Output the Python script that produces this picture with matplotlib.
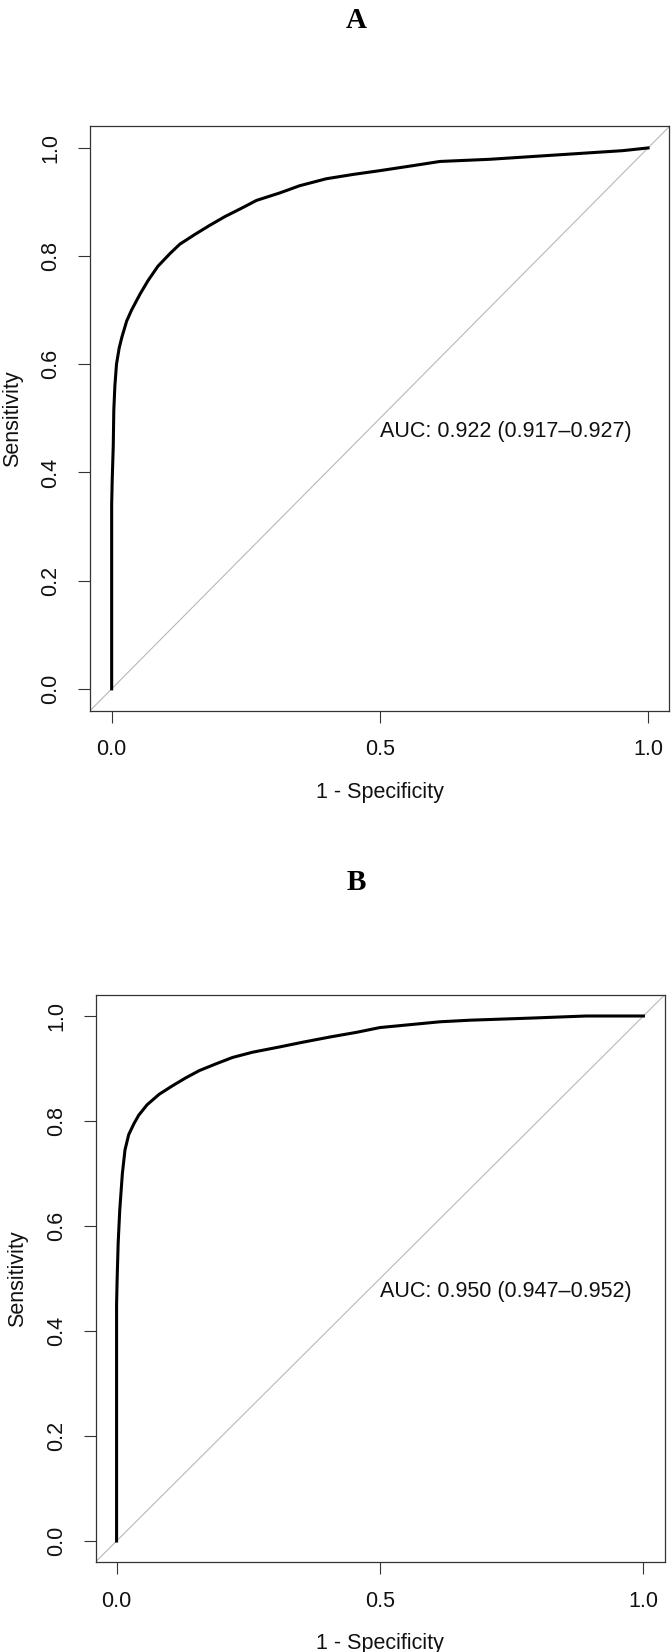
import matplotlib.pyplot as plt

# Curva ROC del panel A (1 - especificidad, sensibilidad)
fpr_a = [0.0, 0.0, 0.001, 0.003, 0.004, 0.006, 0.009, 0.014, 0.019, 0.028, 0.037,
         0.053, 0.068, 0.086, 0.109, 0.127, 0.155, 0.183, 0.211, 0.245, 0.27,
         0.314, 0.35, 0.40, 0.45, 0.50, 0.56, 0.612, 0.705, 0.829, 0.953, 1.0]
tpr_a = [0.0, 0.34, 0.385, 0.45, 0.515, 0.56, 0.60, 0.63, 0.65, 0.68, 0.70,
         0.73, 0.755, 0.781, 0.805, 0.822, 0.840, 0.857, 0.873, 0.890, 0.903,
         0.917, 0.930, 0.943, 0.951, 0.958, 0.967, 0.975, 0.979, 0.987, 0.995, 1.0]

# Curva ROC del panel B
fpr_b = [0.0, 0.0, 0.001, 0.003, 0.006, 0.011, 0.016, 0.023, 0.033, 0.042, 0.058,
         0.081, 0.106, 0.131, 0.157, 0.189, 0.22, 0.258, 0.309, 0.353, 0.405,
         0.456, 0.50, 0.614, 0.671, 0.786, 0.891, 1.0]
tpr_b = [0.0, 0.45, 0.496, 0.567, 0.63, 0.70, 0.745, 0.774, 0.795, 0.811, 0.831,
         0.851, 0.867, 0.882, 0.896, 0.909, 0.921, 0.931, 0.941, 0.950, 0.960,
         0.969, 0.978, 0.989, 0.992, 0.996, 1.0, 1.0]

paneles = ["A", "B"]
textos_auc = ["AUC: 0.922 (0.917\u20130.927)", "AUC: 0.950 (0.947\u20130.952)"]
ticks_x = [0.0, 0.5, 1.0]
ticks_y = [0.0, 0.2, 0.4, 0.6, 0.8, 1.0]

plt.rcParams['font.family'] = ['Liberation Sans', 'DejaVu Sans']

fig = plt.figure(figsize=(6.72, 16.52), dpi=100)

# posiciones de cada panel en pixeles: izquierda, derecha, arriba, abajo
cajas = [(90.2, 669.5, 126.3, 710.5), (95.5, 664.5, 995.0, 1562.0)]
y_titulo = [20, 883]
curvas = [(fpr_a, tpr_a), (fpr_b, tpr_b)]

W, H = 672.0, 1652.0
for i in range(2):
    iz, de, ar, ab = cajas[i]
    ax = fig.add_axes([iz / W, 1 - ab / H, (de - iz) / W, (ab - ar) / H])
    ancho, alto = de - iz, ab - ar

    ax.axline((0, 0), (1, 1), color='#b8b8b8', lw=0.8, zorder=1)
    x, y = curvas[i]
    ax.plot(x, y, color='black', lw=2.2, solid_joinstyle='miter', zorder=2)

    ax.set_xlim(-0.04, 1.04)
    ax.set_ylim(-0.04, 1.04)
    ax.set_xticks(ticks_x)
    ax.set_xticklabels([f"{t:.1f}" for t in ticks_x])
    ax.set_yticks(ticks_y)
    ax.set_yticklabels([f"{t:.1f}" for t in ticks_y], rotation=90, va='center')
    ax.tick_params(length=8.6, width=0.8, color='#333333', labelsize=15.5,
                   labelcolor='#111111', pad=12)
    for s in ax.spines.values():
        s.set_linewidth(0.9)
        s.set_color('#333333')

    ax.set_xlabel("1 - Specificity", fontsize=15.5, color='#111111', va='center')
    ax.xaxis.set_label_coords(0.5, -82.0 / alto)
    ax.set_ylabel("Sensitivity", fontsize=15.5, color='#111111', va='center')
    ax.yaxis.set_label_coords(-78.0 / ancho, 0.5)

    ax.text(0.5, 0.476, textos_auc[i], fontsize=15.5, color='#111111',
            ha='left', va='center')

    fig.text(356 / W, 1 - y_titulo[i] / H, paneles[i], fontsize=21,
             fontweight='bold', family=['Liberation Serif', 'DejaVu Serif'],
             ha='center', va='center')

fig.savefig("out.png", dpi=100)
